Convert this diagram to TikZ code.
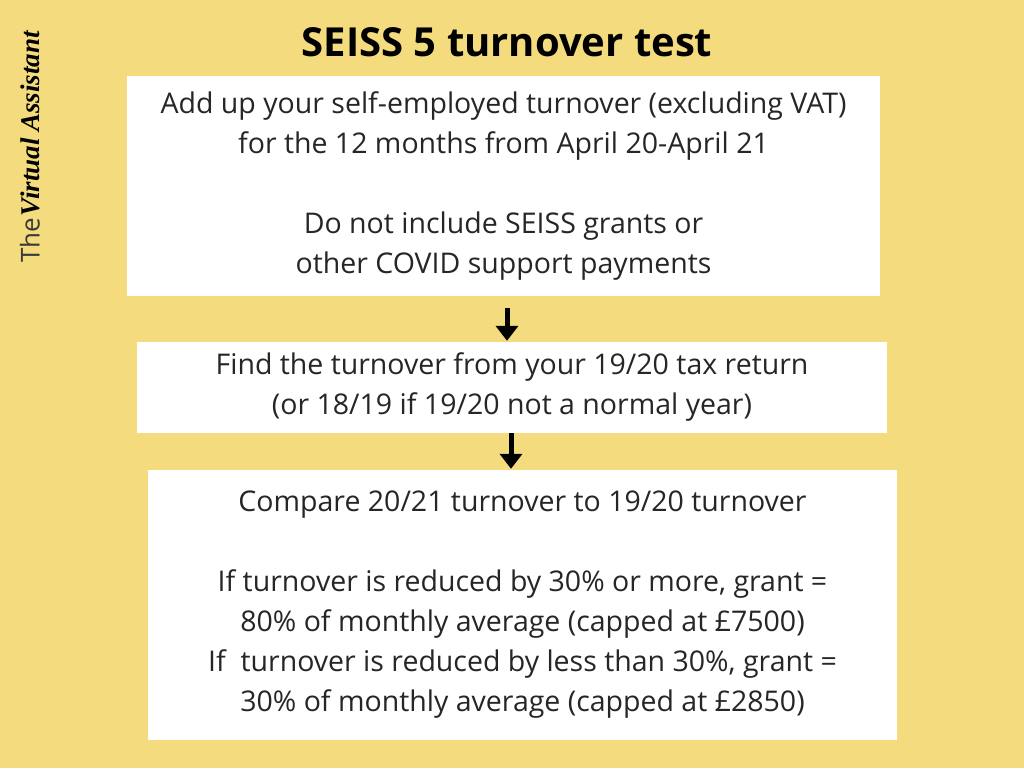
\documentclass[tikz,border=0pt]{standalone}
\usepackage{fontspec}
\setmainfont{Open Sans}
\newfontfamily\sideserif{Liberation Serif}
\usetikzlibrary{arrows.meta}
\definecolor{bg}{HTML}{F4DC7E}
\definecolor{sidegray}{HTML}{3A3A3A}
\tikzset{
  boxnode/.style={fill=white, draw=none, align=center, inner sep=0pt,
    font=\fontsize{28.5}{40}\selectfont, text=black!85},
  arr/.style={line width=5pt, -{Triangle[width=22pt,length=15pt]}, black}
}
\begin{document}
\begin{tikzpicture}[x=1pt,y=-1pt]
\useasboundingbox (0,0) rectangle (1024,768);
\fill[bg] (0,0) rectangle (1024,768);
\node[font=\fontsize{40}{44}\selectfont\bfseries] (title) at (507,42) {SEISS 5 turnover test};
\node[rotate=90, anchor=center] (side) at (30,147) {{\fontsize{26}{30}\selectfont\color{sidegray}The}\,{\sideserif\fontsize{27}{30}\selectfont\bfseries\itshape Virtual Assistant}};
\node[boxnode, minimum width=753pt, minimum height=220pt] (b1) at (503.5,186)
  {Add up your self-employed turnover (excluding VAT)\\for the 12 months from April 20-April 21\\[40pt]Do not include SEISS grants or\\other COVID support payments};
\node[boxnode, minimum width=750pt, minimum height=91pt] (b2) at (512,387.5)
  {Find the turnover from your 19/20 tax return\\(or 18/19 if 19/20 not a normal year)};
\node[boxnode, minimum width=749pt, minimum height=270pt] (b3) at (522.5,605)
  {Compare 20/21 turnover to 19/20 turnover\\[40pt]If turnover is reduced by 30\% or more, grant =\\80\% of monthly average (capped at £7500)\\If\ \ turnover is reduced by less than 30\%, grant =\\30\% of monthly average (capped at £2850)};
\draw[arr, shorten <=12pt, shorten >=1pt] ([xshift=3.5pt]b1.south) -- ([xshift=3.5pt]b1.south |- b2.north);
\draw[arr, shorten >=1pt] ([xshift=-1pt]b2.south) -- ([xshift=-1pt]b2.south |- b3.north);
\end{tikzpicture}
\end{document}
